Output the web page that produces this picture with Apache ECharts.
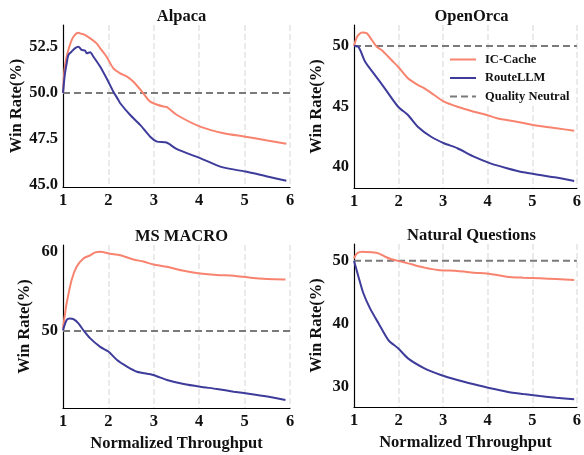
<!DOCTYPE html>
<html>
<head>
<meta charset="utf-8">
<script src="https://cdn.jsdelivr.net/npm/echarts@6/dist/echarts.min.js"></script>
<style>
  html, body { margin: 0; padding: 0; background: #fff; }
  #chart { width: 584px; height: 455px; }
</style>
</head>
<body>
<div id="chart"></div>
<script>
// 数据
var titles = ['Alpaca', 'OpenOrca', 'MS MACRO', 'Natural Questions'];
var xTicks = [1, 2, 3, 4, 5, 6];

var alpacaIcX = [1, 1.03, 1.08, 1.15, 1.23, 1.34, 1.40, 1.45, 1.6, 1.74, 1.82, 1.96, 2.11, 2.26, 2.41, 2.55, 2.77, 2.88, 2.99, 3.21, 3.28, 3.51, 4.02, 4.54, 5.02, 5.5, 5.92];
var alpacaIcY = [50, 51.2, 51.97, 52.6, 53.06, 53.28, 53.22, 53.2, 52.97, 52.7, 52.43, 51.97, 51.34, 51.07, 50.89, 50.61, 49.98, 49.62, 49.44, 49.26, 49.24, 48.8, 48.17, 47.81, 47.62, 47.41, 47.23];
var alpacaRtX = [1, 1.04, 1.08, 1.12, 1.19, 1.26, 1.34, 1.41, 1.49, 1.52, 1.6, 1.67, 1.82, 1.96, 2.11, 2.22, 2.26, 2.48, 2.7, 2.92, 3.07, 3.28, 3.51, 4.02, 4.5, 5.02, 5.5, 5.92];
var alpacaRtY = [50, 51.0, 51.6, 52.07, 52.25, 52.43, 52.52, 52.34, 52.3, 52.16, 52.21, 51.97, 51.43, 50.8, 50.07, 49.62, 49.44, 48.8, 48.26, 47.62, 47.35, 47.3, 46.94, 46.45, 45.96, 45.72, 45.45, 45.22];

var orcaIcX = [1, 1.07, 1.18, 1.29, 1.4, 1.51, 1.62, 1.84, 1.99, 2.21, 2.43, 2.58, 2.8, 3.02, 3.32, 3.69, 3.98, 4.21, 4.65, 5.02, 5.54, 5.94];
var orcaIcY = [50, 50.77, 51.13, 51.05, 50.5, 49.94, 49.67, 48.84, 48.29, 47.33, 46.78, 46.5, 45.95, 45.4, 44.98, 44.57, 44.3, 44.02, 43.74, 43.47, 43.2, 43.0];
var orcaRtX = [1, 1.1, 1.25, 1.47, 1.69, 1.99, 2.21, 2.43, 2.73, 3.02, 3.32, 3.69, 4.06, 4.43, 4.8, 5.17, 5.54, 5.94];
var orcaRtY = [50, 49.94, 48.7, 47.6, 46.5, 44.98, 44.3, 43.33, 42.5, 41.96, 41.55, 40.85, 40.3, 39.9, 39.56, 39.34, 39.12, 38.84];

var macroIcX = [1, 1.04, 1.08, 1.19, 1.3, 1.45, 1.6, 1.71, 1.82, 2.04, 2.26, 2.55, 2.77, 2.99, 3.29, 3.66, 4.02, 4.39, 4.76, 5.13, 5.5, 5.9];
var macroIcY = [50.3, 52.0, 53.5, 56.46, 58.14, 59.2, 59.6, 59.96, 60.04, 59.8, 59.6, 59.07, 58.8, 58.44, 58.14, 57.63, 57.3, 57.1, 57.0, 56.75, 56.6, 56.54];
var macroRtX = [1, 1.08, 1.15, 1.23, 1.34, 1.45, 1.6, 1.82, 2.0, 2.19, 2.41, 2.63, 2.99, 3.29, 3.66, 4.02, 4.39, 4.76, 5.13, 5.5, 5.9];
var macroRtY = [50.1, 51.4, 51.6, 51.5, 50.97, 50.1, 49.07, 48.0, 47.4, 46.33, 45.5, 44.85, 44.43, 43.8, 43.29, 42.95, 42.66, 42.32, 42.03, 41.7, 41.27];

var nqIcX = [1, 1.07, 1.18, 1.4, 1.55, 1.7, 1.84, 2.07, 2.29, 2.58, 2.88, 3.32, 3.69, 4.06, 4.43, 4.8, 5.17, 5.54, 5.94];
var nqIcY = [50.38, 51.17, 51.43, 51.33, 51.17, 50.63, 50.22, 49.84, 49.43, 48.9, 48.52, 48.37, 48.1, 47.9, 47.46, 47.3, 47.2, 47.1, 46.94];
var nqRtX = [1, 1.1, 1.21, 1.36, 1.55, 1.77, 1.99, 2.21, 2.58, 2.95, 3.32, 3.69, 4.06, 4.43, 4.8, 5.17, 5.54, 5.94];
var nqRtY = [50, 47.46, 44.83, 42.44, 40.06, 37.41, 36.1, 34.5, 32.92, 31.86, 31.06, 30.38, 29.75, 29.21, 28.84, 28.52, 28.25, 28.0];

var neutralX = [1, 6];
var neutralY = [50, 50];

var yTicks = [
  [45.0, 47.5, 50.0, 52.5],
  [40, 45, 50],
  [50, 60],
  [30, 40, 50]
];
var yMin = [44.88, 38.26, 40.25, 26.78];
var yMax = [53.7, 51.74, 60.9, 52.65];

var icX = [alpacaIcX, orcaIcX, macroIcX, nqIcX];
var icY = [alpacaIcY, orcaIcY, macroIcY, nqIcY];
var rtX = [alpacaRtX, orcaRtX, macroRtX, nqRtX];
var rtY = [alpacaRtY, orcaRtY, macroRtY, nqRtY];

var icColor = '#f8836f';
var rtColor = '#3e3c9b';
var font = 'Liberation Serif';
var textColor = '#111';

var zip = function (xs, ys) {
  return xs.map(function (x, i) { return [x, ys[i]]; });
};

var gridPos = [
  { left: 63, top: 25, width: 227, height: 162 },
  { left: 354, top: 25, width: 225, height: 163 },
  { left: 63, top: 245, width: 227, height: 163 },
  { left: 354, top: 244, width: 225, height: 163 }
];

var myChart = echarts.init(document.getElementById('chart'));

var option = {
  backgroundColor: '#fff',
  animation: false,
  textStyle: { fontFamily: font },
  title: titles.map(function (t, i) {
    return {
      text: t,
      left: gridPos[i].left + gridPos[i].width / 2,
      top: gridPos[i].top - 22,
      textAlign: 'center',
      textStyle: { fontFamily: font, fontWeight: 'bold', fontSize: 16.5, color: textColor }
    };
  }),
  legend: {
    data: ['IC-Cache', 'RouteLLM', 'Quality Neutral'],
    orient: 'vertical',
    left: 445,
    top: 50,
    padding: [3, 4, 3, 4],
    backgroundColor: '#fff',
    itemWidth: 26,
    itemHeight: 12,
    itemGap: 5.5,
    itemStyle: { opacity: 0 },
    textStyle: { fontFamily: font, fontWeight: 'bold', fontSize: 12.5, color: textColor, padding: [0, 0, 0, 4] }
  },
  grid: gridPos,
  xAxis: gridPos.map(function (g, i) {
    return {
      type: 'value',
      gridIndex: i,
      min: 1,
      max: 6,
      interval: 1,
      name: i >= 2 ? 'Normalized Throughput' : '',
      nameLocation: 'middle',
      nameGap: 27,
      nameTextStyle: { fontFamily: font, fontWeight: 'bold', fontSize: 16.5, color: textColor },
      axisLine: { show: true, lineStyle: { color: '#000', width: 1.2 } },
      axisTick: { show: false },
      axisLabel: {
        margin: 5,
        fontFamily: font, fontWeight: 'bold', fontSize: 16.5, color: textColor,
        customValues: xTicks
      },
      splitLine: {
        show: true,
        showMinLine: false,
        lineStyle: { color: '#e4e4e4', width: 1.5, type: [6, 3] }
      }
    };
  }),
  yAxis: gridPos.map(function (g, i) {
    return {
      type: 'value',
      gridIndex: i,
      min: yMin[i],
      max: yMax[i],
      name: 'Win Rate(%)',
      nameLocation: 'middle',
      nameGap: i % 2 === 0 ? (i === 0 ? 38 : 30) : 29,
      nameTextStyle: { fontFamily: font, fontWeight: 'bold', fontSize: 16.5, color: textColor },
      axisLine: { show: true, lineStyle: { color: '#000', width: 1.2 } },
      axisTick: { show: false, customValues: yTicks[i] },
      axisLabel: {
        margin: 5,
        fontFamily: font, fontWeight: 'bold', fontSize: 16.5, color: textColor,
        customValues: yTicks[i],
        formatter: function (v) { return i === 0 ? v.toFixed(1) : String(v); }
      },
      splitLine: { show: false }
    };
  }),
  series: []
};

for (var i = 0; i < 4; i++) {
  option.series.push({
    name: 'Quality Neutral',
    type: 'line',
    xAxisIndex: i,
    yAxisIndex: i,
    symbol: 'none',
    data: zip(neutralX, neutralY),
    lineStyle: { color: '#7a7a7a', width: 2, type: [7, 4] },
    itemStyle: { color: '#7a7a7a' },
    z: 3
  });
  option.series.push({
    name: 'IC-Cache',
    type: 'line',
    xAxisIndex: i,
    yAxisIndex: i,
    symbol: 'none',
    smooth: 0.25,
    data: zip(icX[i], icY[i]),
    lineStyle: { color: icColor, width: 2 },
    itemStyle: { color: icColor },
    z: 4
  });
  option.series.push({
    name: 'RouteLLM',
    type: 'line',
    xAxisIndex: i,
    yAxisIndex: i,
    symbol: 'none',
    smooth: 0.25,
    data: zip(rtX[i], rtY[i]),
    lineStyle: { color: rtColor, width: 2 },
    itemStyle: { color: rtColor },
    z: 4
  });
}

// 使用刚指定的配置项和数据显示图表。
myChart.setOption(option);
window.addEventListener('resize', function () {
  myChart.resize();
});
</script>
</body>
</html>
